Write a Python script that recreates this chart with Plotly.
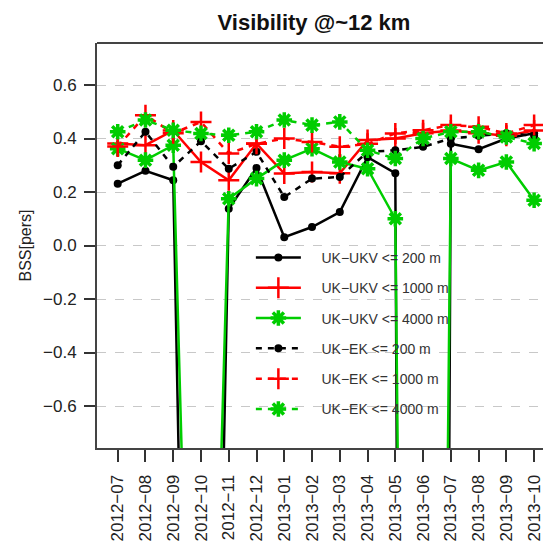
import plotly.graph_objects as go

months = ["2012\u221207", "2012\u221208", "2012\u221209", "2012\u221210", "2012\u221211", "2012\u221212",
          "2013\u221201", "2013\u221202", "2013\u221203", "2013\u221204", "2013\u221205", "2013\u221206",
          "2013\u221207", "2013\u221208", "2013\u221209", "2013\u221210"]

ukv_200 = [0.231, 0.279, 0.244, -5.0, 0.137, 0.29, 0.031, 0.069, 0.125, 0.33, 0.27, -20.0, 0.38, 0.36, 0.40, 0.42]
ukv_1000 = [0.381, 0.375, 0.43, 0.312, 0.244, 0.381, 0.269, 0.275, 0.27, 0.394, 0.40, 0.42, 0.43, 0.42, 0.41, 0.43]
ukv_4000 = [0.362, 0.319, 0.375, -3.4, 0.175, 0.25, 0.319, 0.362, 0.312, 0.287, 0.10, -10.0, 0.325, 0.281, 0.312, 0.169]
ek_200 = [0.30, 0.425, 0.294, 0.39, 0.287, 0.35, 0.181, 0.25, 0.256, 0.35, 0.356, 0.369, 0.40, 0.41, 0.42, 0.41]
ek_1000 = [0.37, 0.487, 0.42, 0.462, 0.344, 0.38, 0.40, 0.387, 0.369, 0.38, 0.419, 0.431, 0.45, 0.444, 0.419, 0.45]
ek_4000 = [0.425, 0.469, 0.431, 0.419, 0.412, 0.425, 0.469, 0.45, 0.462, 0.356, 0.325, 0.40, 0.425, 0.425, 0.406, 0.381]

names = ["UK\u2212UKV <= 200 m", "UK\u2212UKV <= 1000 m", "UK\u2212UKV <= 4000 m",
         "UK\u2212EK <= 200 m", "UK\u2212EK <= 1000 m", "UK\u2212EK <= 4000 m"]
series = [ukv_200, ukv_1000, ukv_4000, ek_200, ek_1000, ek_4000]
colors = ["#000000", "#ff0000", "#00cd00", "#000000", "#ff0000", "#00cd00"]
dashes = ["solid", "solid", "solid", "6px,6px", "6px,6px", "6px,6px"]

def marker_for(c):
    if c == "#000000":
        return dict(symbol="circle", size=8, color=c, line=dict(width=0))
    if c == "#ff0000":
        return dict(symbol="cross-thin-open", size=15, color=c, line=dict(width=2.5, color=c))
    return dict(symbol="asterisk-open", size=13, color=c, line=dict(width=3.5, color=c))

xs = list(range(len(months)))
fig = go.Figure()
for i, (nm, ys) in enumerate(zip(names, series)):
    fig.add_trace(go.Scatter(
        x=xs, y=ys, name="\u00a0\u00a0\u00a0\u00a0" + nm, mode="lines+markers",
        line=dict(color=colors[i], width=2.5, dash=dashes[i]),
        marker=marker_for(colors[i]),
        legendgroup=str(i),
    ))

fig.update_layout(
    width=543, height=544,
    margin=dict(l=97, r=0, t=43, b=96),
    paper_bgcolor="white", plot_bgcolor="white",
    font=dict(family="Liberation Sans, Arial, sans-serif", color="#222222"),
    title=dict(text="<b>Visibility @~12 km</b>", x=0.4865, xref="paper", y=1 - 22 / 544,
               yref="container", xanchor="center", yanchor="middle",
               font=dict(size=22, color="#111111")),
    showlegend=True,
    legend=dict(x=0.345, y=0.509, xanchor="left", yanchor="top", bgcolor="rgba(0,0,0,0)",
                font=dict(size=14, color="#333333"), itemwidth=45, tracegroupgap=9.1),
    xaxis=dict(range=[-0.746, 15.32], tickmode="array", tickvals=xs, ticktext=months,
               tickangle=-90, ticks="outside", ticklen=12, tickwidth=1.5, tickcolor="#333333",
               ticklabeloverflow="allow", ticklabelstandoff=6, automargin=False,
               showgrid=False, zeroline=False, showline=True, linecolor="#444444", linewidth=2,
               tickfont=dict(size=17, color="#222222")),
    yaxis=dict(range=[-0.757, 0.757], tickmode="array", tickvals=[-0.6, -0.4, -0.2, 0.0, 0.2, 0.4, 0.6],
               ticktext=["\u22120.6", "\u22120.4", "\u22120.2", "0.0", "0.2", "0.4", "0.6"],
               ticks="outside", ticklen=11, tickwidth=1.5, tickcolor="#333333",
               ticklabelstandoff=4, automargin=False,
               showgrid=True, gridcolor="#c8c8c8", griddash="dash", gridwidth=1,
               zeroline=False, showline=True, linecolor="#444444", linewidth=2,
               tickfont=dict(size=17, color="#222222")),
    shapes=[dict(type="line", xref="paper", yref="paper", x0=0, x1=1, y0=1, y1=1,
                 line=dict(color="#444444", width=2))],
    annotations=[dict(text="BSS[pers]", xref="paper", yref="paper", x=(25 - 97) / 446, y=0.5,
                      textangle=-90, showarrow=False, xanchor="center", yanchor="middle",
                      font=dict(size=16, color="#222222"))],
)

fig.write_html("out.html")
